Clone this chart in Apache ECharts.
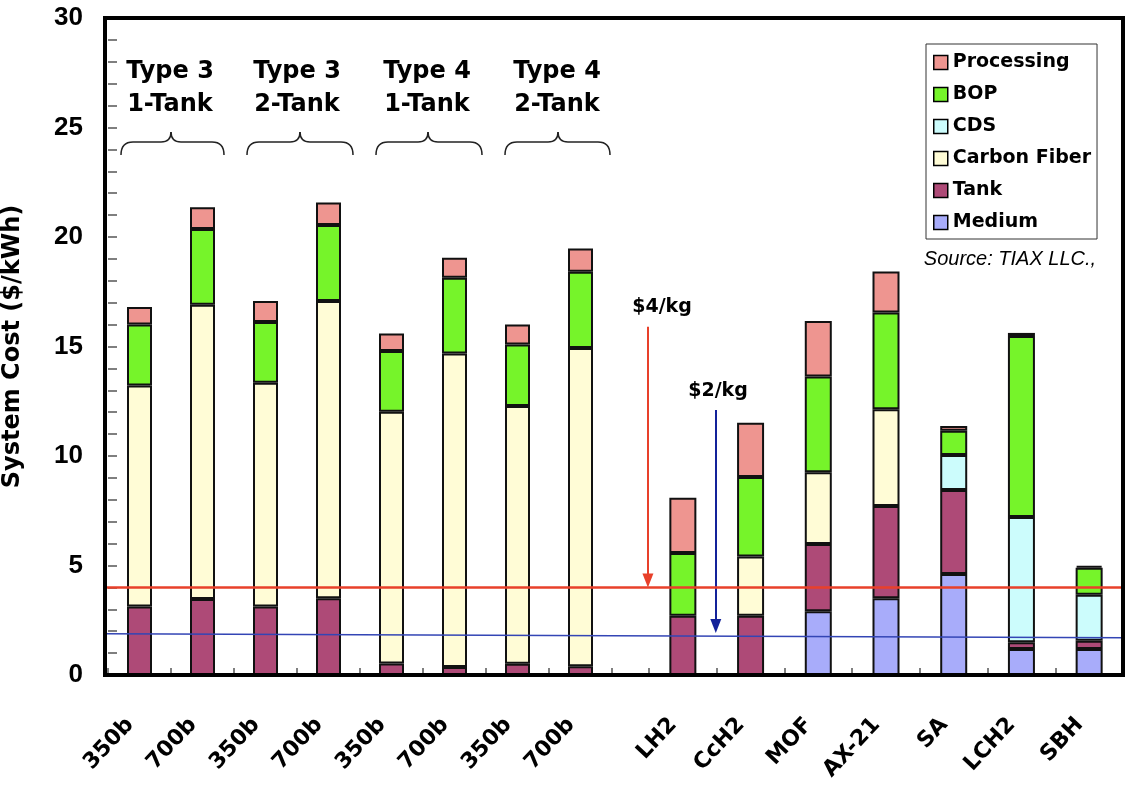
<!DOCTYPE html>
<html>
<head>
<meta charset="utf-8">
<script src="https://cdn.jsdelivr.net/npm/echarts@6/dist/echarts.min.js"></script>
<style>
  html, body { margin: 0; padding: 0; background: #fff; }
  #chart { width: 1127px; height: 792px; }
</style>
</head>
<body>
<div id="chart"></div>
<script>
// ---- Data ----
const categories = ['350b','700b','350b','700b','350b','700b','350b','700b','LH2','CcH2','MOF','AX-21','SA','LCH2','SBH'];
const pressureCount = 8; // first 8 bars are compressed-gas tanks
const medium      = [null,null,null,null,null,null,null,null, null, null, 2.91, 3.50, 4.61, 1.19, 1.19];
const tank        = [3.13,3.47,3.13,3.50,0.52,0.36,0.51,0.40, 2.71, 2.71, 3.07, 4.22, 3.84, 0.30, 0.37];
const carbonFiber = [10.09,13.44,10.21,13.58,11.50,14.32,11.77,14.53, null, 2.70, 3.28, 4.41, null, null, null];
const cds         = [null,null,null,null,null,null,null,null, null, null, null, null, 1.60, 5.73, 2.11];
const bop         = [2.78,3.46,2.78,3.47,2.78,3.46,2.81,3.48, 2.86, 3.63, 4.37, 4.42, 1.10, 8.26, 1.23];
const processing  = [0.80,0.99,0.96,1.02,0.79,0.91,0.91,1.07, 2.52, 2.48, 2.53, 1.88, 0.22, 0.14, 0.09];
const yTicks = [0, 5, 10, 15, 20, 25, 30];
const groupLabels = ['Type 3\n1-Tank', 'Type 3\n2-Tank', 'Type 4\n1-Tank', 'Type 4\n2-Tank'];
const target4 = [[0, 4.0], [15, 4.0]];          // $4/kg line
const target2 = [[0, 1.88], [15, 1.70]];        // $2/kg line
const arrow4 = [[8, 15.9], [8, 4.32]];
const arrow2 = [[9, 12.1], [9, 2.24]];
const legendNames = ['Processing','BOP','CDS','Carbon Fiber','Tank','Medium'];

const colors = {
  'Medium': '#A8ACFA',
  'Tank': '#AE4A77',
  'Carbon Fiber': '#FFFCD6',
  'CDS': '#CCFCFC',
  'BOP': '#76F42A',
  'Processing': '#EE9590'
};

const FONT = 'DejaVu Sans';
const cat1 = categories.slice(0, pressureCount);
const cat2 = categories.slice(pressureCount);

function barSeries(name, arr, gridIdx) {
  const d = gridIdx === 0 ? arr.slice(0, pressureCount) : arr.slice(pressureCount);
  return {
    name: name, type: 'bar', stack: 's' + gridIdx,
    xAxisIndex: gridIdx, yAxisIndex: gridIdx,
    barWidth: gridIdx === 0 ? 25 : 27,
    data: d.map(v => v == null ? '-' : v),
    itemStyle: { color: colors[name], borderColor: '#111', borderWidth: 2 },
    emphasis: { disabled: true },
    z: 2
  };
}

const series = [];
[['Tank', tank], ['Carbon Fiber', carbonFiber], ['BOP', bop], ['Processing', processing]]
  .forEach(p => series.push(barSeries(p[0], p[1], 0)));
[['Medium', medium], ['Tank', tank], ['Carbon Fiber', carbonFiber], ['CDS', cds], ['BOP', bop], ['Processing', processing]]
  .forEach(p => series.push(barSeries(p[0], p[1], 1)));

series.push({
  name: '$4/kg', type: 'line', xAxisIndex: 2, yAxisIndex: 2, data: target4,
  symbol: 'none', silent: true, z: 6,
  lineStyle: { color: '#E8402A', width: 2.5 },
  markLine: {
    silent: true, symbol: ['none', 'triangle'], symbolSize: [11, 14],
    label: { show: false },
    lineStyle: { color: '#E8402A', width: 2, type: 'solid' },
    data: [[{ coord: arrow4[0] }, { coord: arrow4[1] }]]
  }
});
series.push({
  name: '$2/kg', type: 'line', xAxisIndex: 2, yAxisIndex: 2, data: target2,
  symbol: 'none', silent: true, z: 6,
  lineStyle: { color: '#3345B5', width: 1.5 },
  markLine: {
    silent: true, symbol: ['none', 'triangle'], symbolSize: [11, 14],
    label: { show: false },
    lineStyle: { color: '#13229A', width: 2, type: 'solid' },
    data: [[{ coord: arrow2[0] }, { coord: arrow2[1] }]]
  }
});

const xAxisCommon = {
  type: 'category',
  axisLine: { show: false },
  axisTick: { show: true, inside: true, length: 7, lineStyle: { color: '#555', width: 1.5 } },
  axisLabel: {
    rotate: 47, margin: 36, padding: [0, 14, 0, 0], color: '#000',
    fontFamily: FONT, fontWeight: 'bold', fontSize: 22, interval: 0
  },
  splitLine: { show: false }
};

const braces = [[121, 224, 171], [247, 353, 300], [376, 482, 428], [505, 610, 558]];
const groupCenters = [170, 297, 427, 557];
const graphics = [];
const braceStyle = { fill: 'none', stroke: '#222', lineWidth: 1.5 };
braces.forEach(b => {
  const L = b[0], R = b[1], P = b[2];
  const yB = 155, yM = 142, yT = 132;
  graphics.push({ type: 'bezierCurve', silent: true, shape: { x1: L, y1: yB, cpx1: L, cpy1: yM, x2: L + 12, y2: yM }, style: braceStyle });
  graphics.push({ type: 'line', silent: true, shape: { x1: L + 12, y1: yM, x2: P - 10, y2: yM }, style: braceStyle });
  graphics.push({ type: 'bezierCurve', silent: true, shape: { x1: P - 10, y1: yM, cpx1: P, cpy1: yM, x2: P, y2: yT }, style: braceStyle });
  graphics.push({ type: 'bezierCurve', silent: true, shape: { x1: P, y1: yT, cpx1: P, cpy1: yM, x2: P + 10, y2: yM }, style: braceStyle });
  graphics.push({ type: 'line', silent: true, shape: { x1: P + 10, y1: yM, x2: R - 12, y2: yM }, style: braceStyle });
  graphics.push({ type: 'bezierCurve', silent: true, shape: { x1: R - 12, y1: yM, cpx1: R, cpy1: yM, x2: R, y2: yB }, style: braceStyle });
});
groupLabels.forEach((t, i) => {
  graphics.push({
    type: 'text', silent: true, x: groupCenters[i], y: 55,
    style: { text: t, textAlign: 'center', textVerticalAlign: 'top', fill: '#000',
      font: `bold 24px "${FONT}"`, lineHeight: 33 }
  });
});
graphics.push({ type: 'text', silent: true, x: 662, y: 307,
  style: { text: '$4/kg', textAlign: 'center', textVerticalAlign: 'middle', fill: '#000', font: `bold 19px "${FONT}"` } });
graphics.push({ type: 'text', silent: true, x: 718, y: 391,
  style: { text: '$2/kg', textAlign: 'center', textVerticalAlign: 'middle', fill: '#000', font: `bold 19px "${FONT}"` } });
graphics.push({ type: 'text', silent: true, x: 1010, y: 259,
  style: { text: 'Source: TIAX LLC.,', textAlign: 'center', textVerticalAlign: 'middle', fill: '#000', font: 'italic 20px "Liberation Sans"' } });

const option = {
  backgroundColor: '#fff',
  animation: false,
  grid: [
    { left: 105, top: 18, width: 507, bottom: 117, containLabel: false },
    { left: 649, top: 18, width: 474, bottom: 117, containLabel: false },
    { left: 105, top: 18, right: 4, bottom: 117, show: true, borderColor: '#000', borderWidth: 4, backgroundColor: 'transparent', z: 10 }
  ],
  legend: {
    orient: 'vertical', left: 926, top: 44,
    data: legendNames,
    backgroundColor: '#fff', borderColor: '#333', borderWidth: 1,
    padding: [9, 6, 7, 7],
    itemWidth: 14, itemHeight: 14, itemGap: 13,
    selectedMode: false,
    icon: 'rect',
    itemStyle: { borderColor: '#000', borderWidth: 1.5 },
    textStyle: { fontFamily: FONT, fontWeight: 'bold', fontSize: 19, color: '#000' }
  },
  xAxis: [
    Object.assign({}, xAxisCommon, { gridIndex: 0, data: cat1 }),
    Object.assign({}, xAxisCommon, { gridIndex: 1, data: cat2 }),
    { type: 'value', gridIndex: 2, min: 0, max: 15, show: false }
  ],
  yAxis: [
    {
      type: 'value', gridIndex: 0, min: yTicks[0], max: yTicks[yTicks.length - 1], interval: yTicks[1] - yTicks[0],
      name: 'System Cost ($/kWh)', nameLocation: 'middle', nameGap: 83,
      nameTextStyle: { fontFamily: FONT, fontWeight: 'bold', fontSize: 24, color: '#000' },
      axisLine: { show: false },
      axisTick: { show: true, inside: true, length: 9, lineStyle: { color: '#555', width: 1.5 } },
      minorTick: { show: true, splitNumber: 5, length: 9, lineStyle: { color: '#555', width: 1.5 } },
      splitLine: { show: false },
      axisLabel: { margin: 25, color: '#000', fontFamily: 'Liberation Sans', fontWeight: 'bold', fontSize: 26 }
    },
    { type: 'value', gridIndex: 1, min: 0, max: 30, show: false, splitLine: { show: false } },
    { type: 'value', gridIndex: 2, min: 0, max: 30, show: false, splitLine: { show: false } }
  ],
  series: series,
  graphic: graphics
};

const chart = echarts.init(document.getElementById('chart'), null, { renderer: 'canvas' });
chart.setOption(option);
</script>
</body>
</html>
